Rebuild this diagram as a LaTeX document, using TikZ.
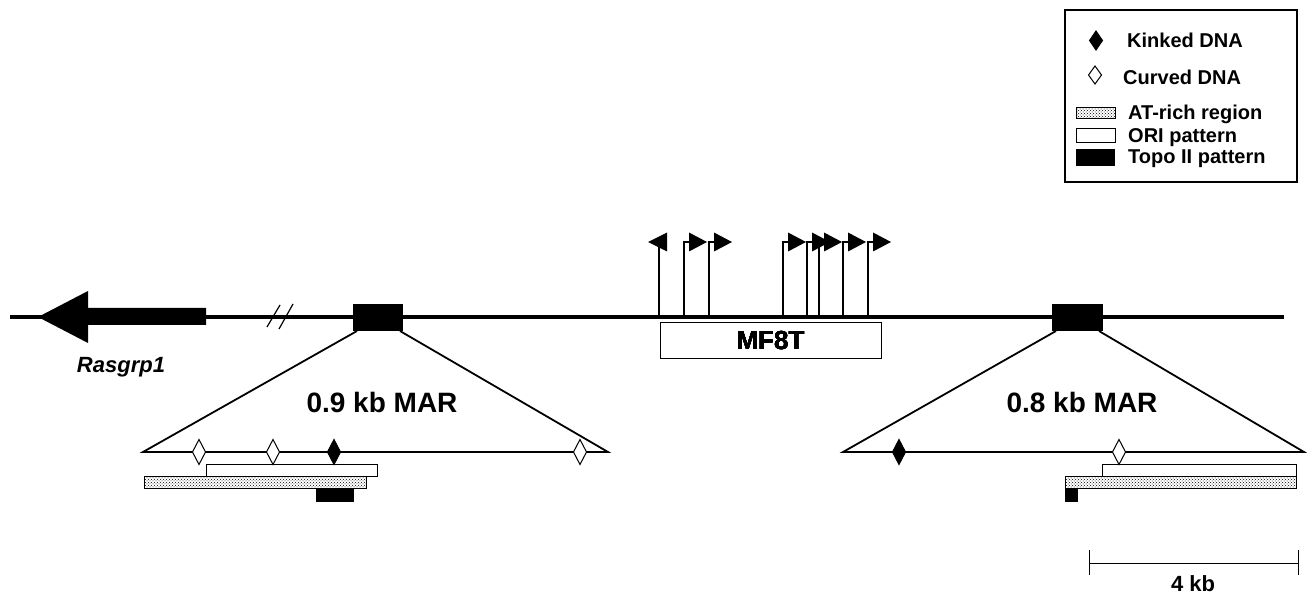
\documentclass[tikz,border=0pt]{standalone}
\usepackage{fontspec}
\setmainfont{Liberation Sans}
\usetikzlibrary{patterns}

% diamond marks: style, x, y, half height
\newcommand{\dmd}[4]{\filldraw[#1] (#2-6.5,#3) -- (#2,#3-#4) -- (#2+6.5,#3) -- (#2,#3+#4) -- cycle;}
% promoter arrow pointing right from a point on the line
\newcommand{\prom}[1]{\draw[line width=1.5pt] (#1,317) |- (#1+6,242);
	\fill (#1+5,232.5) -- (#1+23,242) -- (#1+5,251.5) -- cycle;}

\tikzset{
	kinked/.style={fill=black,draw=black,line width=1pt},
	curved/.style={fill=white,draw=black,line width=1pt},
	atrich/.style={draw=black,line width=0.8pt,pattern=crosshatch dots,pattern color=black},
	oribar/.style={draw=black,line width=0.8pt,fill=white},
	topobar/.style={fill=black},
	marlabel/.style={font=\bfseries\fontsize{28}{30}\selectfont,anchor=base,inner sep=0pt},
	legtext/.style={font=\bfseries\fontsize{20}{22}\selectfont,anchor=base west,inner sep=0pt},
}

\begin{document}
\begin{tikzpicture}[x=1pt,y=-1pt]
	\useasboundingbox (0,0) rectangle (1307,601);

	% chromosome line and Rasgrp1 gene
	\draw[line width=4pt] (10,317) -- (1284,317);
	\fill (38,317) -- (88,291) -- (88,308) -- (206,308) -- (206,325) -- (88,325) -- (88,343) -- cycle;
	\node[font=\bfseries\itshape\fontsize{22}{24}\selectfont,anchor=base,inner sep=0pt] (rasgrp) at (121,373) {Rasgrp1};
	\draw[line width=1.2pt] (267,327) -- (280,305);
	\draw[line width=1.2pt] (279,329) -- (293,304);

	% promoters and MF8T
	\draw[line width=1.5pt] (659,317) -- (659,242);
	\fill (667,232.5) -- (648,242) -- (667,251.5) -- cycle;
	\foreach \v in {684,709,783,807,819,843,868}
		\prom{\v}
	\node[draw,line width=1pt,minimum width=221pt,minimum height=36pt,
		font=\bfseries\fontsize{26}{28}\selectfont] (mf8t) at (770.5,341) {MF8T};

	% first MAR
	\fill (353,304) rectangle (403,331);
	\draw[line width=1.8pt] (357,331) -- (143,452) -- (608,452) -- (400,331);
	\node[marlabel] (marone) at (382,413) {0.9 kb MAR};
	\filldraw[topobar] (316,488) rectangle (353,501);
	\filldraw[atrich] (144,476) rectangle (366,488);
	\filldraw[oribar] (206,464) rectangle (377,476);
	\dmd{curved}{199}{452}{12.5}
	\dmd{curved}{273}{452}{12.5}
	\dmd{kinked}{334}{452}{12.5}
	\dmd{curved}{580}{452}{12.5}

	% second MAR
	\fill (1052,304) rectangle (1103,331);
	\draw[line width=1.8pt] (1056,331) -- (843,452) -- (1304,452) -- (1099,331);
	\node[marlabel] (martwo) at (1082,413) {0.8 kb MAR};
	\filldraw[topobar] (1065,488) rectangle (1077,501);
	\filldraw[atrich] (1065,476) rectangle (1296,488);
	\filldraw[oribar] (1102,464) rectangle (1296,476);
	\dmd{kinked}{899}{452}{12.5}
	\dmd{curved}{1119}{452}{12.5}

	% legend
	\draw[line width=1.2pt] (1065,10) rectangle (1297,182);
	\dmd{kinked}{1096}{40.5}{9.5}
	\node[legtext] (kinktext) at (1127,48) {Kinked DNA};
	\dmd{curved}{1095}{75}{9}
	\node[legtext] (curvtext) at (1123,85) {Curved DNA};
	\filldraw[atrich] (1076,107) rectangle (1115,118);
	\node[legtext] (attext) at (1128,120) {AT-rich region};
	\filldraw[oribar] (1076,128) rectangle (1115,142);
	\node[legtext] (oritext) at (1128,143) {ORI pattern};
	\fill (1076,149) rectangle (1115,166);
	\node[legtext] (topotext) at (1128,164) {Topo II pattern};

	% scale bar
	\draw[line width=1pt] (1089,563) -- (1298,563);
	\draw[line width=1pt] (1089,550) -- (1089,575);
	\draw[line width=1pt] (1298,550) -- (1298,575);
	\node[font=\bfseries\fontsize{22}{24}\selectfont,anchor=base,inner sep=0pt] (scale) at (1193,591) {4 kb};
\end{tikzpicture}
\end{document}
